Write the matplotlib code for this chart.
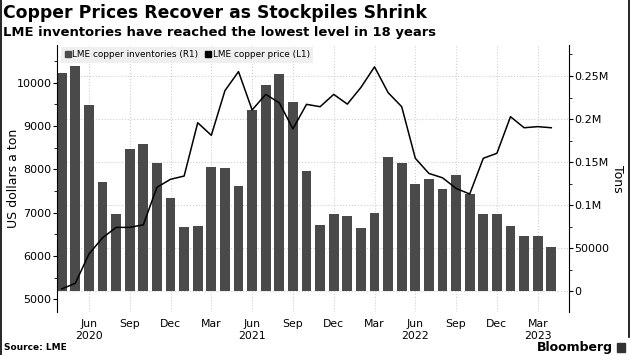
import numpy as np
import matplotlib
matplotlib.use("Agg")
import matplotlib.pyplot as plt
from matplotlib.lines import Line2D
from matplotlib.patches import Rectangle
from matplotlib.ticker import FuncFormatter, MultipleLocator

# --- Dane: miesiące od kwietnia 2020 do kwietnia 2023 ---
months = ["Apr 2020", "May 2020", "Jun 2020", "Jul 2020", "Aug 2020", "Sep 2020",
          "Oct 2020", "Nov 2020", "Dec 2020", "Jan 2021", "Feb 2021", "Mar 2021",
          "Apr 2021", "May 2021", "Jun 2021", "Jul 2021", "Aug 2021", "Sep 2021",
          "Oct 2021", "Nov 2021", "Dec 2021", "Jan 2022", "Feb 2022", "Mar 2022",
          "Apr 2022", "May 2022", "Jun 2022", "Jul 2022", "Aug 2022", "Sep 2022",
          "Oct 2022", "Nov 2022", "Dec 2022", "Jan 2023", "Feb 2023", "Mar 2023",
          "Apr 2023"]

# zapasy LME w tonach (R1)
inventories = [253000, 261600, 216300, 127300, 89400, 165200, 170700, 149300,
               108000, 74300, 75800, 144000, 143500, 122300, 210900, 239600,
               252700, 219500, 139700, 77000, 89400, 87800, 73200, 91300,
               155600, 149000, 124200, 130400, 118400, 135000, 113300, 89800,
               89400, 75500, 63900, 64600, 51800]

# cena miedzi USD/t (L1)
price = [5240, 5370, 6045, 6420, 6660, 6660, 6720, 7585, 7770, 7845, 9075, 8785,
         9815, 10255, 9370, 9730, 9535, 8935, 9500, 9445, 9730, 9505, 9890, 10365,
         9770, 9445, 8255, 7905, 7805, 7560, 7430, 8255, 8370, 9215, 8960, 8985,
         8960]

tick_months = ["Jun 2020", "Sep 2020", "Dec 2020", "Mar 2021", "Jun 2021", "Sep 2021",
               "Dec 2021", "Mar 2022", "Jun 2022", "Sep 2022", "Dec 2022", "Mar 2023"]
tick_labels = ["Jun\n2020", "Sep", "Dec", "Mar", "Jun\n2021", "Sep", "Dec", "Mar",
               "Jun\n2022", "Sep", "Dec", "Mar\n2023"]

BAR = "#4a4a4a"
GRID = "#cfcfcf"

x = np.arange(len(months))
tick_pos = [months.index(m) for m in tick_months]

fig = plt.figure(figsize=(6.31, 3.55), dpi=100)
ax = fig.add_axes([0.0903, 0.1211, 0.8114, 0.7521])
ax2 = ax.twinx()

# --- słupki: zapasy (prawa oś) ---
ax2.bar(x, inventories, width=0.72, color=BAR, zorder=2)
ax2.set_ylim(-24000, 286000)
ax2.yaxis.set_major_locator(MultipleLocator(50000))
ax2.yaxis.set_minor_locator(MultipleLocator(25000))


def tons_fmt(v, pos):
    if v == 0:
        return "0"
    if v < 100000:
        return f"{v:.0f}"
    return f"{v / 1e6:g}M"


ax2.yaxis.set_major_formatter(FuncFormatter(tons_fmt))
ax2.grid(axis="y", color=GRID, linestyle=":", linewidth=0.8, zorder=0)
for p in tick_pos:
    ax2.axvline(p, color=GRID, linestyle=":", linewidth=0.8, zorder=0)
ax2.set_ylabel("Tons", rotation=270, fontsize=9, va="center")
ax2.yaxis.set_label_coords(1.094, 0.5)

# --- linia: cena (lewa oś) ---
ax.plot(x, price, color="black", linewidth=1.1, zorder=3)
ax.set_ylim(4707, 10869)
ax.yaxis.set_major_locator(MultipleLocator(1000))
ax.yaxis.set_minor_locator(MultipleLocator(500))
ax.set_ylabel("US dollars a ton", fontsize=9, va="center")
ax.yaxis.set_label_coords(-0.084, 0.5)
ax.set_xlim(-0.35, 37.3)
ax.set_xticks(tick_pos)
ax.set_xticklabels(tick_labels, fontsize=7.8, linespacing=1.2)
ax.tick_params(axis="x", length=0, pad=5)

ax.set_zorder(ax2.get_zorder() + 1)
ax.patch.set_visible(False)

for a in (ax, ax2):
    for s in ("top", "bottom"):
        a.spines[s].set_visible(False)
ax.spines["right"].set_visible(False)
ax2.spines["left"].set_visible(False)
ax.tick_params(axis="y", labelsize=8, length=3, pad=1)
ax.tick_params(axis="y", which="minor", length=2)
ax2.tick_params(axis="y", labelsize=8, length=3, pad=1)
ax2.tick_params(axis="y", which="minor", length=2)

# --- legenda ---
handles = [Line2D([], [], marker="s", linestyle="none", color=BAR, markersize=5),
           Line2D([], [], marker="s", linestyle="none", color="black", markersize=5)]
leg = ax.legend(handles, ["LME copper inventories (R1)", "LME copper price (L1)"],
                loc="upper left", bbox_to_anchor=(0.004, 1.0), ncol=2, fontsize=6.4,
                frameon=True, fancybox=False, handletextpad=0.1, columnspacing=0.7,
                borderpad=0.4, handlelength=0.8, borderaxespad=0.2)
leg.get_frame().set_facecolor("#efefef")
leg.get_frame().set_edgecolor("none")
leg.get_frame().set_alpha(1)

# --- tytuły i stopka ---
fig.text(0.005, 0.962, "Copper Prices Recover as Stockpiles Shrink",
         fontsize=12.4, fontweight="bold", va="center", ha="left")
fig.text(0.005, 0.908, "LME inventories have reached the lowest level in 18 years",
         fontsize=9.45, fontweight="bold", va="center", ha="left")
fig.text(0.006, 0.02, "Source: LME", fontsize=6.5, fontweight="bold", va="center")
fig.text(0.972, 0.022, "Bloomberg", fontsize=9, fontweight="bold",
         va="center", ha="right")
fig.add_artist(Rectangle((0.978, 0.008), 0.013, 0.027, transform=fig.transFigure,
                         color="#333333"))

fig.add_artist(Line2D([0.002, 0.002], [0, 1], transform=fig.transFigure,
                      color="black", linewidth=1.2))
fig.add_artist(Line2D([0.997, 0.997], [0.05, 1], transform=fig.transFigure,
                      color="black", linewidth=1.2))

fig.savefig("out.png", dpi=100)
